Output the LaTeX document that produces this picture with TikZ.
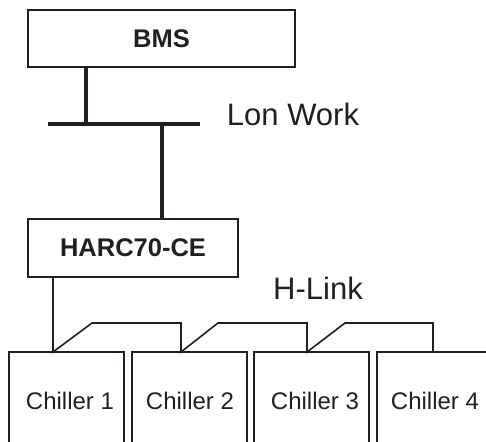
\documentclass[tikz,border=0pt]{standalone}
\usepackage{fontspec}
\setmainfont{Liberation Sans}
\definecolor{ink}{HTML}{231F20}
\begin{document}
\begin{tikzpicture}[x=1pt,y=-1pt,
  box/.style={draw=ink, line width=1.8pt, inner sep=0pt},
  busline/.style={draw=ink, line width=4pt},
  linkline/.style={draw=ink, line width=1.6pt, line join=miter},
  chbox/.style={draw=ink, line width=1.8pt},
  chtext/.style={text=ink, font=\fontsize{24}{28}\selectfont, inner sep=0pt},
  lbl/.style={text=ink, font=\fontsize{31}{36}\selectfont, inner sep=0pt},
  ttl/.style={text=ink, font=\bfseries\fontsize{25.5}{30}\selectfont}]
\useasboundingbox (0,0) rectangle (486,441);
% top boxes
\node[box, minimum width=267pt, minimum height=57pt, ttl] (bms) at (161.5,38.5) {BMS};
\node[box, minimum width=210pt, minimum height=58pt, ttl] (harc) at (133,248) {HARC70-CE};
% Lon Work bus
\coordinate (busL) at (48,124);
\coordinate (busR) at (200,124);
\coordinate (j1) at (86,124);
\coordinate (j2) at (162,124);
\draw[busline] (j1 |- bms.south) -- (j1);
\draw[busline] (busL) -- (busR);
\draw[busline] (j2) -- (j2 |- harc.north);
\node[lbl] (lon) at (293,114) {Lon Work};
\node[lbl] (hlink) at (318,288) {H-Link};
% chillers (open at the bottom)
\node[chtext] (c1) at (70,401) {Chiller 1};
\node[chtext] (c2) at (190,401) {Chiller 2};
\node[chtext] (c3) at (315,401) {Chiller 3};
\node[chtext] (c4) at (435,401) {Chiller 4};
\draw[chbox] (9,445) -- (9,352) -- (124,352) -- (124,445);
\draw[chbox] (132,445) -- (132,352) -- (247,352) -- (247,445);
\draw[chbox] (254,445) -- (254,352) -- (369,352) -- (369,445);
\draw[chbox] (377,445) -- (377,352) -- (490,352);
% H-Link daisy chain
\coordinate (t1) at (53,352);
\coordinate (t2) at (181,352);
\coordinate (t3) at (307,352);
\coordinate (t4) at (433,352);
\draw[linkline] (t1 |- harc.south) -- (t1) -- (92,323) -- (181,323) -- (t2)
  -- (218,323) -- (307,323) -- (t3) -- (345,323) -- (433,323) -- (t4);
\end{tikzpicture}
\end{document}
